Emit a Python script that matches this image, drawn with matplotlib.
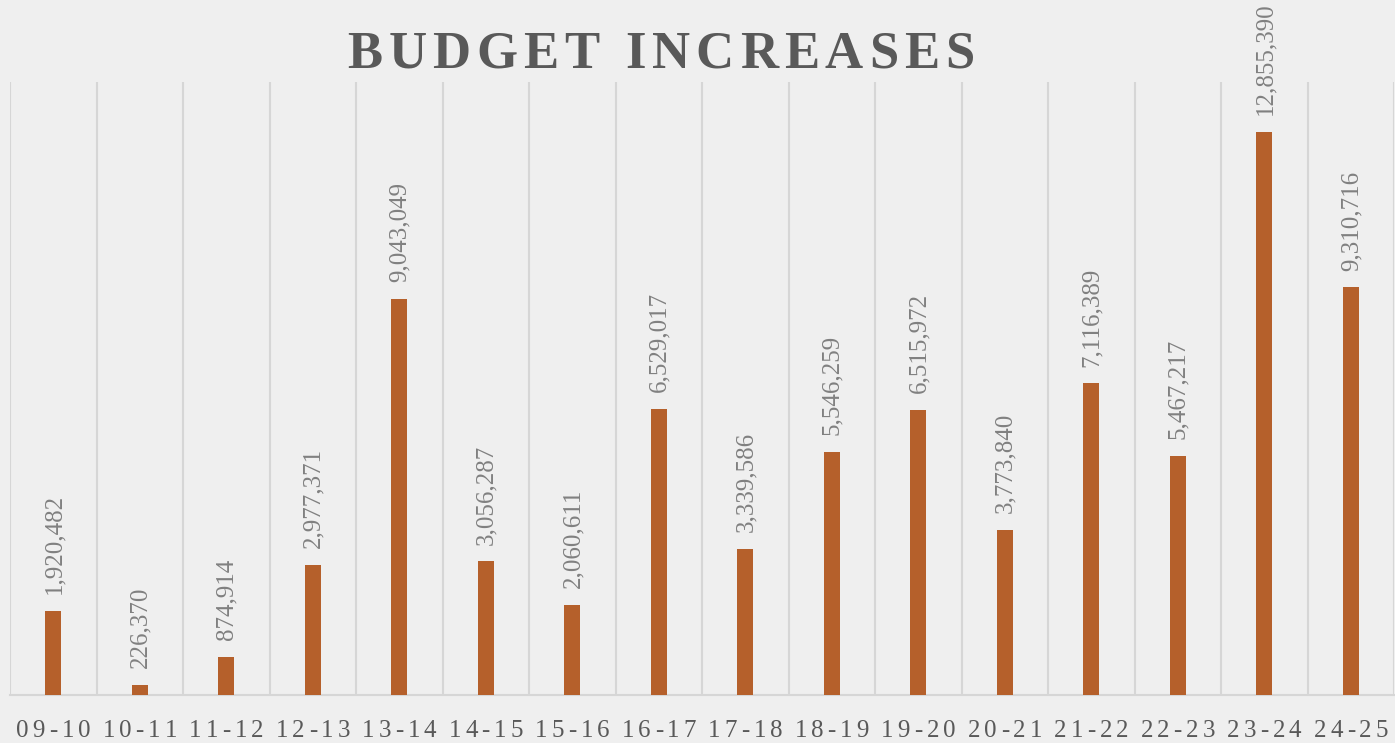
import matplotlib.pyplot as plt
import numpy as np
from matplotlib.font_manager import FontProperties, findfont
from matplotlib.ft2font import FT2Font

years = ["09-10", "10-11", "11-12", "12-13", "13-14", "14-15", "15-16", "16-17",
         "17-18", "18-19", "19-20", "20-21", "21-22", "22-23", "23-24", "24-25"]
increases = [1920482, 226370, 874914, 2977371, 9043049, 3056287, 2060611, 6529017,
             3339586, 5546259, 6515972, 3773840, 7116389, 5467217, 12855390, 9310716]

W, H, DPI = 1395, 743, 100
bg = "#efefef"
fig = plt.figure(figsize=(W / DPI, H / DPI), dpi=DPI, facecolor=bg)
ax = fig.add_axes([10 / W, 48 / H, 1384 / W, 613 / H])
ax.set_facecolor(bg)


def advances(s, size, weight="normal"):
    """advance width of each character in pixels"""
    prop = FontProperties(family="Liberation Serif", weight=weight)
    font = FT2Font(findfont(prop))
    font.set_size(size, DPI)
    return [font.load_char(ord(c)).linearHoriAdvance / 65536 for c in s]


def spaced_text(px, py, s, size, track, weight="normal", color="#595959"):
    """draw horizontal text letter by letter with extra tracking, centred on px (pixels)"""
    adv = advances(s, size, weight)
    pen = -(sum(adv) + track * (len(s) - 1)) / 2
    for c, a in zip(s, adv):
        fig.text((px + pen + a / 2) / W, py / H, c, ha="center", va="baseline",
                 family="Liberation Serif", fontweight=weight, fontsize=size, color=color)
        pen += a + track


x = np.arange(len(years))
ax.bar(x, increases, width=0.19, color="#b5602b", zorder=3)

# category separators
for b in np.arange(len(years) + 1) - 0.5:
    ax.axvline(b, color="#d6d6d6", lw=1.5, zorder=1)

ax.set_xlim(-0.5, len(years) - 0.5)
ax.set_ylim(0, 14000000)
ax.set_yticks([])
ax.set_xticks([])
for s in ["top", "left", "right"]:
    ax.spines[s].set_visible(False)
ax.spines["bottom"].set_color("#d6d6d6")
ax.spines["bottom"].set_linewidth(1.5)

# value labels above the bars, category labels below
for xi, v, yr in zip(x, increases, years):
    ax.annotate(f"{v:,}", (xi, v), xytext=(0.5, 12), textcoords="offset points",
                rotation=90, ha="center", va="bottom", family="Liberation Serif",
                fontsize=18, color="#808080", annotation_clip=False)
    bx = ax.transData.transform((xi, 0))[0]
    spaced_text(bx, H - 737, yr, 18, 4)

spaced_text(661, H - 68, "BUDGET INCREASES", 38, 6, weight="bold")

fig.savefig("out.png", dpi=DPI, facecolor=bg)
